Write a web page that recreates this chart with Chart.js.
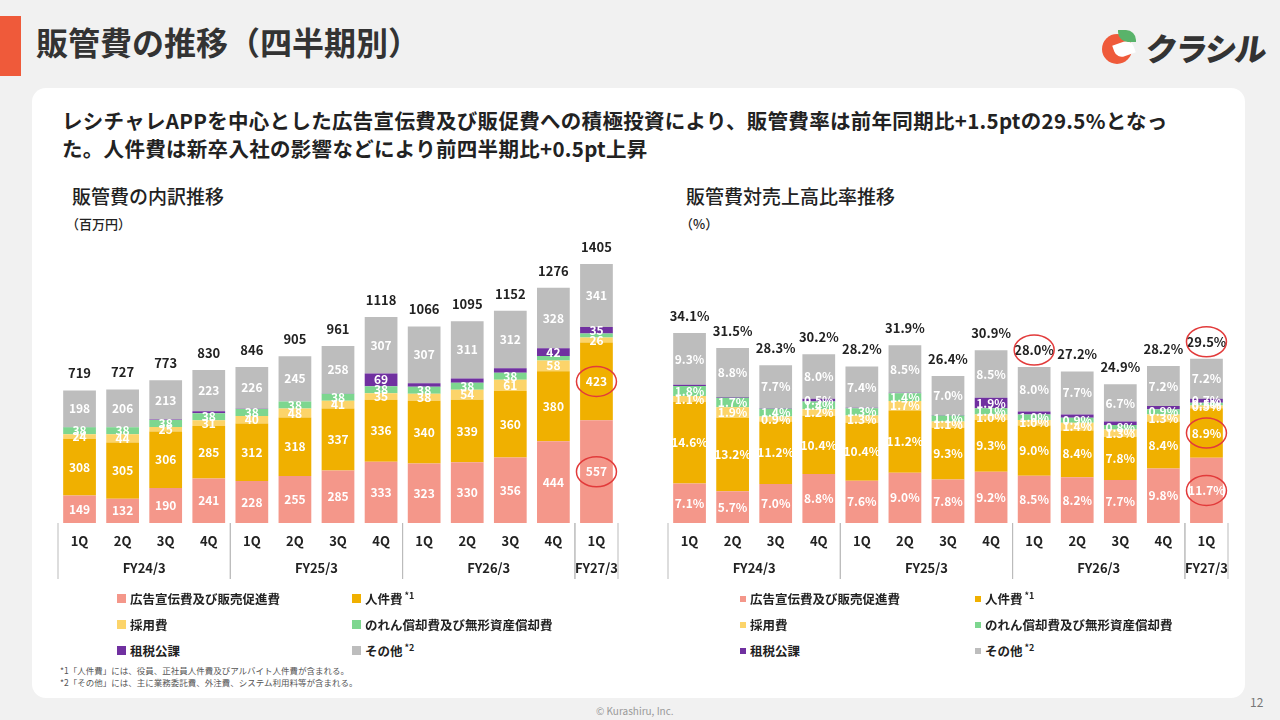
<!DOCTYPE html>
<html><head><meta charset="utf-8">
<script src="https://cdn.jsdelivr.net/npm/chart.js@4.4.0/dist/chart.umd.min.js"></script>
<style>
body{margin:0;width:1280px;height:720px;background:#f1f1f1;font-family:"Noto Sans CJK JP","Noto Sans",sans-serif;position:relative;overflow:hidden;color:#222}
.abs{position:absolute}
#card{left:32px;top:88px;width:1213px;height:610px;background:#fff;border-radius:14px}
.lg{font-size:12.5px;font-weight:700;color:#222;display:flex;align-items:center}
.lg i{display:inline-block;width:9px;height:9px;margin-right:4px}
sup{font-size:9px;margin-left:2px;position:relative;top:-3px}
</style></head><body>
<div class="abs" style="left:0;top:16px;width:21px;height:60px;background:#ef5a3a"></div>
<div class="abs" style="left:36px;top:18px;font-size:32px;font-weight:700;color:#333">販管費の推移（四半期別）</div>
<div class="abs" style="left:1102px;top:30px;width:34px;height:34px">
 <div class="abs" style="left:0;top:4px;width:30px;height:30px;border-radius:50%;background:#ef5a3a"></div>
 <div class="abs" style="left:12px;top:12px;width:20px;height:14px;background:#fff;border-radius:0 8px 0 8px;transform:rotate(-20deg)"></div>
 <div class="abs" style="left:16px;top:0px;width:18px;height:12px;background:#59b36a;border-radius:0 10px 0 10px"></div>
</div>
<div class="abs" style="left:1146px;top:24px;font-size:32px;font-weight:900;color:#333;letter-spacing:-2px;transform:skewX(-8deg)">クラシル</div>
<div id="card" class="abs"></div>
<div class="abs" style="left:62px;top:106px;font-size:20.5px;font-weight:700;line-height:28px;color:#222;width:1140px;letter-spacing:0.3px">レシチャレAPPを中心とした広告宣伝費及び販促費への積極投資により、販管費率は前年同期比+1.5ptの29.5%となった。人件費は新卒入社の影響などにより前四半期比+0.5pt上昇</div>
<div class="abs" style="left:72px;top:182px;font-size:19px;font-weight:500">販管費の内訳推移</div>
<div class="abs" style="left:66px;top:214px;font-size:13px;font-weight:500">（百万円）</div>
<div class="abs" style="left:686px;top:182px;font-size:19px;font-weight:500">販管費対売上高比率推移</div>
<div class="abs" style="left:680px;top:214px;font-size:13px;font-weight:500">（%）</div>
<div class="abs" style="left:50px;top:230px;width:580px;height:360px"><canvas id="c1"></canvas></div>
<div class="abs" style="left:660px;top:230px;width:580px;height:360px"><canvas id="c2"></canvas></div>
<div id="lg1"></div><div id="lg2"></div>
<div class="abs" style="left:60px;top:664px;font-size:8.5px;color:#555;line-height:12px">*1「人件費」には、役員、正社員人件費及びアルバイト人件費が含まれる。<br>*2「その他」には、主に業務委託費、外注費、システム利用料等が含まれる。</div>
<div class="abs" style="left:596px;top:703px;font-size:10px;color:#999">© Kurashiru, Inc.</div>
<div class="abs" style="left:1250px;top:693px;font-size:12px;color:#777">12</div>
<script>
const quarters=['1Q','2Q','3Q','4Q','1Q','2Q','3Q','4Q','1Q','2Q','3Q','4Q','1Q'];
const fiscalYears=[['FY24/3',0,3],['FY25/3',4,7],['FY26/3',8,11],['FY27/3',12,12]];
const seriesNames=['広告宣伝費及び販売促進費','人件費','採用費','のれん償却費及び無形資産償却費','租税公課','その他'];
const colors=['#f4978a','#f0b000','#fcd46a','#7dd68f','#7030a0','#bdbdbd'];
// left: million yen
const adCost=[149,132,190,241,228,255,285,333,323,330,356,444,557];
const personnel=[308,305,306,285,312,318,337,336,340,339,360,380,423];
const recruit=[24,44,25,31,40,48,41,35,38,54,61,58,26];
const goodwill=[38,38,38,38,38,38,38,38,38,38,38,24,23];
const tax=[2,0,2,12,2,1,2,69,20,23,25,42,35];
const other=[198,206,213,223,226,245,258,307,307,311,312,328,341];
const totals=[719,727,773,830,846,905,961,1118,1066,1095,1152,1276,1405];
const taxLabels=[null,null,null,null,null,null,null,69,null,null,null,42,35];
const goodwillLabels=[38,38,38,38,38,38,38,38,38,38,38,null,null];
// right: % of sales
const adPct=[7.1,5.7,7.0,8.8,7.6,9.0,7.8,9.2,8.5,8.2,7.7,9.8,11.7];
const personnelPct=[14.6,13.2,11.2,10.4,10.4,11.2,9.3,9.3,9.0,8.4,7.8,8.4,8.9];
const recruitPct=[1.1,1.9,0.9,1.2,1.3,1.7,1.1,1.0,1.0,1.4,1.3,1.3,0.5];
const goodwillPct=[1.8,1.7,1.4,1.4,1.3,1.4,1.1,1.1,1.0,0.9,0.8,0.9,0.5];
const taxPct=[0.2,0.1,0.1,0.5,0.1,0.1,0.1,1.9,0.5,0.6,0.6,0.6,0.7];
const otherPct=[9.3,8.8,7.7,8.0,7.4,8.5,7.0,8.5,8.0,7.7,6.7,7.2,7.2];
const totalPct=[34.1,31.5,28.3,30.2,28.2,31.9,26.4,30.9,28.0,27.2,24.9,28.2,29.5];
const taxPctLabels=[null,null,null,0.5,null,null,null,1.9,null,null,null,null,0.7];

const F='"Noto Sans CJK JP","Noto Sans",sans-serif';
function plugin(totalArr,suffix,circles){return{id:'deco',afterDatasetsDraw(ch){
 const c=ch.ctx,x=ch.scales.x,y=ch.scales.y,base=y.getPixelForValue(0);
 c.save();c.textAlign='center';c.textBaseline='middle';
 ch.data.datasets.forEach((ds,di)=>{const m=ch.getDatasetMeta(di);m.data.forEach((b,i)=>{
  const v=ds.labels[i];if(v==null)return;c.fillStyle='#fff';c.font='bold 12px '+F;
  c.fillText((suffix?v.toFixed(1):v)+suffix,b.x,(b.y+b.base)/2);});});
 const last=ch.getDatasetMeta(ch.data.datasets.length-1);
 last.data.forEach((b,i)=>{c.fillStyle='#222';c.font='bold 13px '+F;c.fillText((suffix?totalArr[i].toFixed(1):totalArr[i])+suffix,b.x,b.y-17);});
 c.strokeStyle='#e23b3b';c.lineWidth=1.5;
 circles.forEach(([di,i,tot])=>{let px,py;const b=ch.getDatasetMeta(di<0?ch.data.datasets.length-1:di).data[i];
  px=b.x;py=tot?b.y-17:(b.y+b.base)/2;c.beginPath();c.ellipse(px,py,20,15,0,0,Math.PI*2);c.stroke();});
 c.fillStyle='#222';c.font='bold 13px '+F;
 const step=x.getPixelForValue(1)-x.getPixelForValue(0);
 quarters.forEach((q,i)=>c.fillText(q,x.getPixelForValue(i),base+18));
 c.strokeStyle='#bbb';c.lineWidth=1;
 fiscalYears.forEach(([n,a,e])=>{const l=x.getPixelForValue(a)-step/2,r=x.getPixelForValue(e)+step/2;
  c.fillText(n,(l+r)/2,base+45);
  [l,r].forEach(xx=>{c.beginPath();c.moveTo(xx,base);c.lineTo(xx,base+56);c.stroke();});});
 c.restore();}}}
function make(id,arrs,labs,totalArr,suffix,max,circles){
 new Chart(document.getElementById(id),{type:'bar',
  data:{labels:quarters,datasets:arrs.map((d,k)=>({label:seriesNames[k],data:d,labels:labs[k],backgroundColor:colors[k],borderColor:'#fff',borderWidth:0,barPercentage:0.76,categoryPercentage:1}))},
  options:{responsive:false,animation:false,events:[],layout:{padding:{left:8,right:12,bottom:67,top:0}},
   plugins:{legend:{display:false},tooltip:{enabled:false}},
   scales:{x:{stacked:true,display:false},y:{stacked:true,display:false,min:0,max:max}}},
  plugins:[plugin(totalArr,suffix,circles)]});}
['c1','c2'].forEach(id=>{const c=document.getElementById(id);c.width=580;c.height=360;});
make('c1',[adCost,personnel,recruit,goodwill,tax,other],[adCost,personnel,recruit,goodwillLabels,taxLabels,other],totals,'',1590,[[0,12],[1,12]]);
make('c2',[adPct,personnelPct,recruitPct,goodwillPct,taxPct,otherPct],[adPct,personnelPct,recruitPct,goodwillPct,taxPctLabels,otherPct],totalPct,'%',52.6,[[0,12],[1,12],[-1,8,1],[-1,12,1]]);
function legend(id,left,sq){const pos=[[0,0],[235,0],[0,26],[235,26],[0,52],[235,52]];
 const sups=['','*1','','','','*2'];let h='';
 seriesNames.forEach((n,k)=>{h+=`<div class="abs lg" style="left:${left+pos[k][0]}px;top:${589+pos[k][1]}px"><i style="background:${colors[k]};${sq?'':'width:6px;height:6px'}"></i>${n}${sups[k]?'<sup>'+sups[k]+'</sup>':''}</div>`;});
 document.getElementById(id).innerHTML=h;}
legend('lg1',117,true);legend('lg2',740,false);
</script></body></html>
